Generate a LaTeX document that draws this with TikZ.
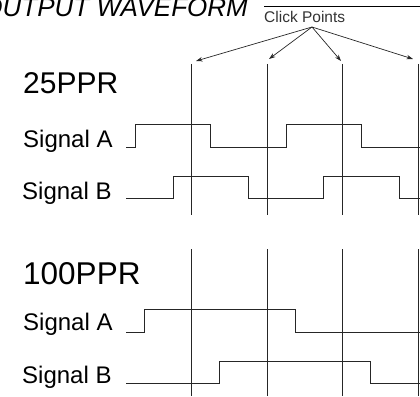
\documentclass[tikz,border=0pt]{standalone}
\usepackage{fontspec}
\setmainfont{Liberation Sans}
\usetikzlibrary{arrows.meta}

\begin{document}
\begin{tikzpicture}[
  x=1pt, y=-1pt,
  every path/.style={line cap=butt, line join=miter},
  wave/.style={black!85, line width=0.9pt},
  grid/.style={black!85, line width=0.9pt},
  pointer/.style={black!85, line width=0.7pt, -{Stealth[length=6.5pt,width=4.5pt]}},
  siglbl/.style={anchor=base west, inner sep=0pt, font=\fontsize{24}{24}\selectfont},
  pprlbl/.style={anchor=base west, inner sep=0pt, font=\fontsize{30}{30}\selectfont}
]
\useasboundingbox (0,0) rectangle (420,396);

% ---------------- Heading ----------------
\node[anchor=base east, inner sep=0pt, font=\fontsize{26}{26}\selectfont\itshape] (title) at (248,16.5) {OUTPUT WAVEFORM};
\draw[black] (264,6) -- (420,6);
\node[anchor=base west, inner sep=0pt, text=black!80, font=\fontsize{15.5}{15.5}\selectfont] (clicklbl) at (264,22.5) {Click Points};

% Pointers from the label to the click points
\coordinate (hub) at (312,27);
\foreach \x/\y [count=\k] in {196/61, 269/59, 341/61, 413/59} {
  \coordinate (tip\k) at (\x,\y);
  \draw[pointer] (hub) -- (tip\k);
}

% ---------------- Click point lines ----------------
\foreach \x in {191,267,342,418} {
  \draw[grid] (\x,64) -- (\x,215);
  \draw[grid] (\x,249) -- (\x,396);
}

% ---------------- 25PPR ----------------
\node[pprlbl] (ppr25) at (23,93) {25PPR};
\node[siglbl] (sigA25) at (23,147) {Signal A};
\node[siglbl] (sigB25) at (22,199) {Signal B};
\draw[wave] (126,147) -- (135,147) -- (135,124) -- (210,124) -- (210,147)
  -- (286,147) -- (286,124) -- (361,124) -- (361,147) -- (420,147);
\draw[wave] (126,198) -- (173,198) -- (173,176) -- (248,176) -- (248,198)
  -- (323,198) -- (323,176) -- (399,176) -- (399,198) -- (420,198);

% ---------------- 100PPR ----------------
\node[pprlbl, font=\fontsize{31.5}{31.5}\selectfont] (ppr100) at (23,284) {100PPR};
\node[siglbl] (sigA100) at (23,330) {Signal A};
\node[siglbl] (sigB100) at (22,383) {Signal B};
\draw[wave] (126,332) -- (144,332) -- (144,309) -- (295,309) -- (295,332) -- (420,332);
\draw[wave] (126,383) -- (219,383) -- (219,361) -- (370,361) -- (370,383) -- (420,383);

\end{tikzpicture}
\end{document}
